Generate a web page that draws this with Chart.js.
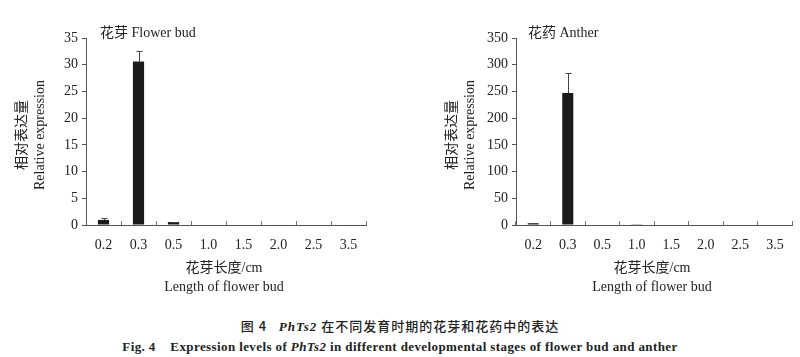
<!DOCTYPE html>
<html>
<head>
<meta charset="utf-8">
<script src="https://cdn.jsdelivr.net/npm/chart.js@4.4.0/dist/chart.umd.min.js"></script>
<style>
  body { margin:0; background:#fff; }
  #wrap { position:relative; width:800px; height:357px; background:#fff; overflow:hidden;
          font-family:"Liberation Serif","Noto Sans CJK SC",serif; color:#222; }
  canvas { position:absolute; }
  .lbl { position:absolute; white-space:nowrap; font-size:14px; line-height:1; }
  .ytitle { position:absolute; white-space:nowrap; font-size:14px; line-height:1;
            transform:translate(-50%,-50%) rotate(-90deg); }
  .cap { position:absolute; left:0; width:800px; text-align:center; white-space:nowrap; font-weight:bold; }
</style>
</head>
<body>
<div id="wrap">
  <canvas id="budChart" style="left:0;top:0;width:400px;height:300px" width="400" height="300"></canvas>
  <canvas id="antherChart" style="left:430px;top:0;width:370px;height:300px" width="370" height="300"></canvas>

  <div class="lbl" style="left:100px;top:26px">花芽 Flower bud</div>
  <div class="lbl" style="left:528px;top:26px">花药 Anther</div>

  <div class="ytitle" style="left:20px;top:135px;font-family:'Noto Sans CJK SC',serif">相对表达量</div>
  <div class="ytitle" style="left:40px;top:135px">Relative expression</div>
  <div class="ytitle" style="left:450px;top:135px;font-family:'Noto Sans CJK SC',serif">相对表达量</div>
  <div class="ytitle" style="left:470px;top:135px">Relative expression</div>

  <div class="lbl" style="left:224px;top:261px;transform:translateX(-50%)">花芽长度/cm</div>
  <div class="lbl" style="left:224px;top:280px;transform:translateX(-50%)">Length of flower bud</div>
  <div class="lbl" style="left:652px;top:261px;transform:translateX(-50%)">花芽长度/cm</div>
  <div class="lbl" style="left:652px;top:280px;transform:translateX(-50%)">Length of flower bud</div>

  <div class="cap" style="top:316px;font-size:13px;letter-spacing:1px;font-weight:500;font-family:'Noto Sans CJK SC',serif">图 4&nbsp;&nbsp;&nbsp;<i style="font-family:'Liberation Serif';font-weight:bold">PhTs2</i> 在不同发育时期的花芽和花药中的表达</div>
  <div class="cap" style="top:339px;font-size:13px;letter-spacing:0.4px">Fig. 4&nbsp;&nbsp;&nbsp; Expression levels of <i>PhTs2</i> in different developmental stages of flower bud and anther</div>
</div>
<script>
// bud length categories (cm)
const lengths = ['0.2', '0.3', '0.5', '1.0', '1.5', '2.0', '2.5', '3.5'];

// flower bud relative expression + upper error
const budValues = [0.95, 30.6, 0.55, 0, 0, 0.1, 0, 0.1];
const budErrors = [0.45, 1.9, 0.1, 0, 0, 0, 0, 0];

// anther relative expression + upper error
const antherValues = [3.5, 247, 1.0, 1.2, 1.0, 0, 0, 0];
const antherErrors = [0.5, 38, 0, 0, 0, 0, 0, 0];

const budTicks = { max: 35, step: 5 };
const antherTicks = { max: 350, step: 50 };

const errorBars = {
  id: 'errorBars',
  afterDatasetsDraw(chart) {
    const ctx = chart.ctx;
    const y = chart.scales.y;
    const meta = chart.getDatasetMeta(0);
    const vals = chart.data.datasets[0].data;
    const errs = chart.data.datasets[0].errors;
    ctx.save();
    ctx.strokeStyle = '#444';
    ctx.lineWidth = 1;
    meta.data.forEach((bar, i) => {
      if (!errs[i]) return;
      const x = Math.round(bar.x) + 0.5;
      const top = Math.round(y.getPixelForValue(vals[i] + errs[i])) + 0.5;
      ctx.beginPath();
      ctx.moveTo(x, bar.y);
      ctx.lineTo(x, top);
      ctx.moveTo(x - 3, top);
      ctx.lineTo(x + 3, top);
      ctx.stroke();
    });
    ctx.restore();
  }
};

function makeChart(id, values, errors, ticks, rightPad) {
  return new Chart(document.getElementById(id), {
    type: 'bar',
    data: {
      labels: lengths,
      datasets: [{
        data: values,
        errors: errors,
        backgroundColor: '#1b1b1b',
        borderWidth: 0,
        barPercentage: 0.32,
        categoryPercentage: 1.0
      }]
    },
    options: {
      responsive: false,
      animation: false,
      events: [],
      layout: { padding: { top: 38, right: rightPad, left: 0, bottom: 0 } },
      plugins: { legend: { display: false }, tooltip: { enabled: false } },
      scales: {
        x: {
          afterFit: s => { s.height = 75; },
          border: { display: true, color: '#555', width: 1 },
          grid: { display: true, drawOnChartArea: false, drawTicks: true, tickLength: -4, color: '#777', offset: true },
          ticks: { color: '#222', padding: 16, maxRotation: 0, font: { family: 'Liberation Serif', size: 14 } }
        },
        y: {
          min: 0, max: ticks.max,
          afterFit: s => { s.width = 86; },
          border: { display: true, color: '#555', width: 1 },
          grid: { display: true, drawOnChartArea: false, drawTicks: true, tickLength: 4, color: '#555' },
          ticks: { stepSize: ticks.step, color: '#222', padding: 4, font: { family: 'Liberation Serif', size: 14 } }
        }
      }
    },
    plugins: [errorBars]
  });
}

makeChart('budChart', budValues, budErrors, budTicks, 34);
makeChart('antherChart', antherValues, antherErrors, antherTicks, 6);
</script>
</body>
</html>
